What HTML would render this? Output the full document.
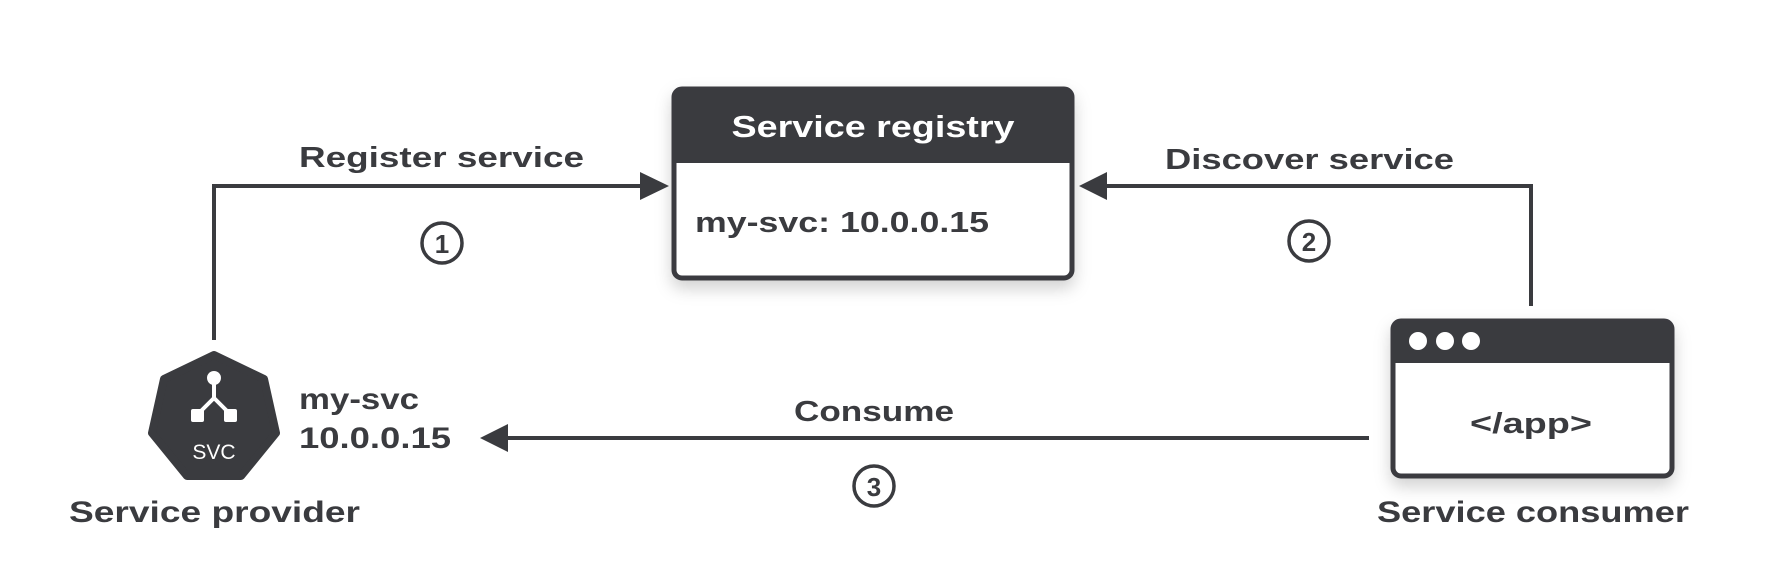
<!DOCTYPE html>
<html><head><meta charset="utf-8"><style>
html,body{margin:0;padding:0;background:#fff;}
svg{display:block;}
text{font-family:"Liberation Sans",sans-serif;font-weight:bold;fill:#3a3b3f;}
</style></head><body>
<svg width="1792" height="582" viewBox="0 0 1792 582" xmlns="http://www.w3.org/2000/svg">
<defs>
<filter id="sh" x="-20%" y="-20%" width="140%" height="150%">
<feDropShadow dx="0" dy="8" stdDeviation="8" flood-color="#000" flood-opacity="0.18"/>
</filter>
</defs>
<!-- Registry -->
<g filter="url(#sh)">
<rect x="674" y="89" width="398" height="189" rx="8" fill="#fff" stroke="#3a3b3f" stroke-width="5"/>
</g>
<path d="M674 163 V97 a8 8 0 0 1 8 -8 H1064 a8 8 0 0 1 8 8 V163 Z" fill="#3a3b3f"/>
<text x="873" y="137" text-anchor="middle" font-size="31" style="fill:#fff" textLength="283" lengthAdjust="spacingAndGlyphs">Service registry</text>
<text x="695" y="232" font-size="29" textLength="294" lengthAdjust="spacingAndGlyphs">my-svc: 10.0.0.15</text>

<!-- Register line -->
<polyline points="214,340 214,186 642,186" fill="none" stroke="#3a3b3f" stroke-width="4"/>
<polygon points="669,186 640,172 640,200" fill="#3a3b3f"/>
<text x="299" y="167" font-size="29" textLength="285" lengthAdjust="spacingAndGlyphs">Register service</text>
<circle cx="442" cy="243" r="20" fill="none" stroke="#3a3b3f" stroke-width="3.5"/>
<text x="442" y="253" text-anchor="middle" font-size="26">1</text>

<!-- Discover line -->
<polyline points="1531,306 1531,186 1104,186" fill="none" stroke="#3a3b3f" stroke-width="4"/>
<polygon points="1079,186 1107,172 1107,200" fill="#3a3b3f"/>
<text x="1165" y="169" font-size="29" textLength="289" lengthAdjust="spacingAndGlyphs">Discover service</text>
<circle cx="1309" cy="241" r="20" fill="none" stroke="#3a3b3f" stroke-width="3.5"/>
<text x="1309" y="251" text-anchor="middle" font-size="26">2</text>

<!-- Consumer window -->
<g filter="url(#sh)">
<rect x="1393" y="321" width="279" height="155" rx="8" fill="#fff" stroke="#3a3b3f" stroke-width="5"/>
</g>
<path d="M1393 363 V329 a8 8 0 0 1 8 -8 H1664 a8 8 0 0 1 8 8 V363 Z" fill="#3a3b3f"/>
<circle cx="1418" cy="341" r="9" fill="#fff"/>
<circle cx="1445" cy="341" r="9" fill="#fff"/>
<circle cx="1471" cy="341" r="9" fill="#fff"/>
<text x="1531" y="433" text-anchor="middle" font-size="29" textLength="122" lengthAdjust="spacingAndGlyphs">&lt;/app&gt;</text>
<text x="1533" y="522" text-anchor="middle" font-size="30" textLength="312" lengthAdjust="spacingAndGlyphs">Service consumer</text>

<!-- Consume line -->
<line x1="1369" y1="438" x2="505" y2="438" stroke="#3a3b3f" stroke-width="4"/>
<polygon points="480,438 508,424 508,452" fill="#3a3b3f"/>
<text x="874" y="421" text-anchor="middle" font-size="29" textLength="160" lengthAdjust="spacingAndGlyphs">Consume</text>
<circle cx="874" cy="486" r="20" fill="none" stroke="#3a3b3f" stroke-width="3.5"/>
<text x="874" y="496" text-anchor="middle" font-size="26">3</text>

<!-- Provider heptagon -->
<polygon points="214,355 264,379 276,433 241,476 187,476 152,433 164,379" fill="#3a3b3f" stroke="#3a3b3f" stroke-width="8" stroke-linejoin="round"/>
<g stroke="#fff" stroke-width="4" fill="none">
<line x1="214" y1="382" x2="214" y2="398"/>
<line x1="214" y1="398" x2="199" y2="413"/>
<line x1="214" y1="398" x2="229" y2="413"/>
</g>
<circle cx="214" cy="378" r="7" fill="#fff"/>
<rect x="191" y="409" width="13" height="13" rx="2" fill="#fff"/>
<rect x="224" y="409" width="13" height="13" rx="2" fill="#fff"/>
<text x="214" y="459" text-anchor="middle" font-size="21" style="fill:#fff;font-weight:normal">SVC</text>
<text x="299" y="409" font-size="30" textLength="120" lengthAdjust="spacingAndGlyphs">my-svc</text>
<text x="299" y="448" font-size="30" textLength="152" lengthAdjust="spacingAndGlyphs">10.0.0.15</text>
<text x="69" y="522" font-size="30" textLength="291" lengthAdjust="spacingAndGlyphs">Service provider</text>
</svg>
</body></html>
